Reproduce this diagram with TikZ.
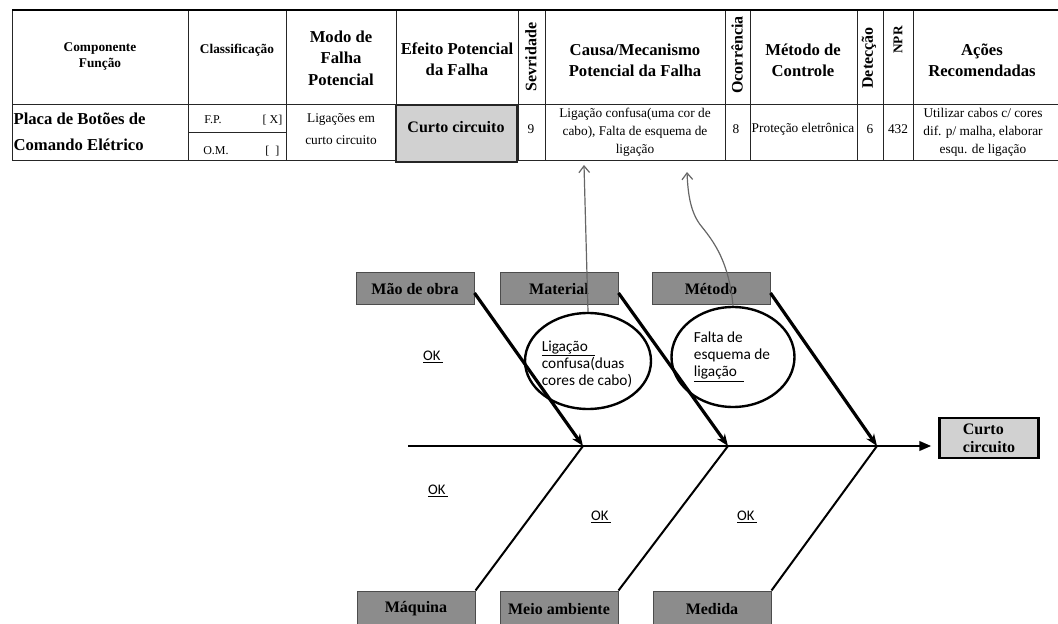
\documentclass[tikz,border=0pt]{standalone}
\usepackage{fontspec}
\setmainfont{Liberation Serif}
\newfontfamily\calibri{Carlito}
\usetikzlibrary{shapes.geometric,arrows.meta,calc}

\begin{document}
\begin{tikzpicture}
[x=0.75pt, y=-0.75pt,
grade/.style={black!85, line width=0.75pt},
borda/.style={black, line width=1.5pt},
cab/.style={font=\bfseries\fontsize{12.5}{16}\selectfont, align=center},
cabpeq/.style={font=\bfseries\fontsize{10}{12}\selectfont, align=center},
vert/.style={font=\bfseries\fontsize{12}{14}\selectfont, rotate=90},
dado/.style={font=\fontsize{10}{13.5}\selectfont, align=center},
miudo/.style={font=\fontsize{9}{11}\selectfont, inner sep=1pt},
destaque/.style={draw=black!85, fill=black!18, line width=2pt},
caixa/.style={draw=black!70, fill=black!45, line width=0.75pt, minimum width=88.5pt, minimum height=24pt, font=\bfseries\fontsize{12}{14}\selectfont},
caixaefeito/.style={draw=black, fill=black!18, line width=2.2pt, minimum width=74.25pt, minimum height=30pt, align=left, font=\bfseries\fontsize{12}{13.5}\selectfont},
espinha/.style={line width=2pt, -{Triangle[length=9pt,width=7pt]}, shorten >=5pt},
osso/.style={line width=2.4pt, -{Stealth[length=9pt,width=7pt]}},
ossobaixo/.style={line width=1.5pt},
bolha/.style={ellipse, draw, line width=1.8pt, inner sep=0pt},
txtbolha/.style={font=\calibri\fontsize{11.5}{12.75}\selectfont, align=left, inner sep=0pt},
ok/.style={font=\calibri\fontsize{11}{13}\selectfont},
seta/.style={black!60, line width=0.9pt, -{Straight Barb[length=5pt,width=8pt]}}]
\useasboundingbox (0,0) rectangle (1058,624);
\clip (0,0) rectangle (1058,624);
\foreach \x in {12,188,286,396,518,545,725,750,857,883,913}
  \draw[grade] (\x,10) -- (\x,161);
\draw[grade] (12,105) -- (1058,105);
\draw[grade] (12,161) -- (1058,161);
\draw[grade] (188,133) -- (286,133);
\draw[borda] (12,10) -- (1058,10);
\draw[destaque] (396,105) rectangle (517,162);
\node[cabpeq] (componente) at (100,56) {Componente\\Função};
\node[cabpeq] (classif) at (237,50) {Classificação};
\node[cab] (modo) at (341,58) {Modo de\\Falha\\Potencial};
\node[cab] (efeitocab) at (457,59) {Efeito Potencial\\da Falha};
\node[vert] (sev) at (531,57) {Sevridade};
\node[cab] (causacab) at (635,60) {Causa/Mecanismo\\Potencial da Falha};
\node[vert] (ocor) at (737,55) {Ocorrência};
\node[cab] (metodocab) at (803,60) {Método de\\Controle};
\node[vert] (detec) at (869,58) {Detecção};
\node[vert, font=\bfseries\fontsize{10}{12}\selectfont] (npr) at (898,40) {NPR};
\node[cab] (acoescab) at (982,60) {Ações\\Recomendadas};
\node[anchor=west, align=left, inner sep=1pt, font=\bfseries\fontsize{12.5}{19.5}\selectfont] (placa) at (12,132) {Placa de Botões de\\Comando Elétrico};
\node[miudo] (fp) at (213,120) {F.P.};
\node[miudo, anchor=east] (fpx) at (284,120) {[ X]};
\node[miudo] (om) at (216,151) {O.M.};
\node[miudo, anchor=east] (omx) at (281,151) {[\ \ ]};
\node[dado, font=\fontsize{10}{16.5}\selectfont] (modo1) at (341,129) {Ligações em\\curto circuito};
\node[font=\bfseries\fontsize{12}{14}\selectfont] (curto) at (456,127) {Curto circuito};
\node[dado] (sev9) at (531,129) {9};
\node[dado] (causa) at (635,132) {Ligação confusa(uma cor de\\cabo), Falta de esquema de\\ligação};
\node[dado] (ocor8) at (736,129) {8};
\node[dado] (controle) at (803,129) {Proteção eletrônica};
\node[dado] (det6) at (870,129) {6};
\node[dado] (npr432) at (898,129) {432};
\node[dado] (acoes) at (983,132) {Utilizar cabos c/ cores\\dif. p/ malha, elaborar\\esqu. de ligação};
\node[caixa] (maodeobra) at (415,289) {Mão de obra};
\node[caixa] (material) at (559,289) {Material};
\node[caixa] (metodo) at (711,289) {Método};
\node[caixa, minimum height=27pt] (maquina) at (416,609) {Máquina};
\node[caixa, minimum height=27pt] (meio) at (559,609) {Meio ambiente};
\node[caixa, minimum height=27pt] (medida) at (712,609) {Medida};
\node[caixaefeito] (efeito) at (989,438) {Curto\\circuito};
\coordinate (cauda) at (408,446);
\coordinate (j1) at (583,446);
\coordinate (j2) at (728,446);
\coordinate (j3) at (877,446);
\draw[espinha] (cauda) -- (cauda -| efeito.west);
\draw[ossobaixo] (maquina.north east) -- (j1);
\draw[ossobaixo] (meio.north east) -- (j2);
\draw[ossobaixo] (medida.north east) -- (j3);
\draw[osso] ($(maodeobra.east)+(0,4)$) -- (j1);
\draw[osso] ($(material.east)+(0,4)$) -- (j2);
\draw[osso] ($(metodo.east)+(0,4)$) -- (j3);
\node[bolha, minimum width=94.5pt, minimum height=72pt] (bolha1) at (588,361) {};
\node[txtbolha] (txt1) at (587,364) {\underline{Ligação\hspace{5pt}}\\confusa(duas\\cores de cabo)};
\node[bolha, minimum width=92.25pt, minimum height=75pt] (bolha2) at (733,357) {};
\node[txtbolha] (txt2) at (732,357) {Falta de\\esquema de\\\underline{ligação\hspace{5pt}}};
\node[ok] (ok1) at (433,357) {\underline{OK\,}};
\node[ok] (ok2) at (438,491) {\underline{OK\,}};
\node[ok] (ok3) at (601,517) {\underline{OK\,}};
\node[ok] (ok4) at (747,517) {\underline{OK\,}};
\coordinate (seta1) at (584,165);
\coordinate (seta2) at (687,172);
\draw[seta] (bolha1.north) -- (seta1);
\draw[seta] (bolha2.north) .. controls (729,262) and (714,242) .. (702,227) .. controls (691,214) and (688,196) .. (seta2);
\end{tikzpicture}
\end{document}
